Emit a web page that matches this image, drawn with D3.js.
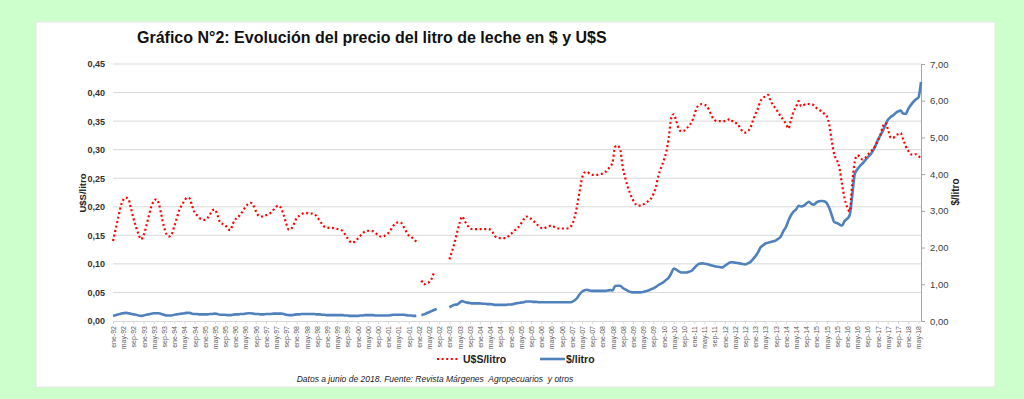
<!DOCTYPE html>
<html>
<head>
<meta charset="utf-8">
<script src="https://cdn.jsdelivr.net/npm/d3@7"></script>
<style>
    html, body { margin: 0; padding: 0; background: #ccffcc; }
    svg { display: block; font-family: "Liberation Sans", Arial, sans-serif; }
</style>
</head>
<body>
<svg id="svg" width="1024" height="399"></svg>
<script>
(function() {
    'use strict';

    var meses = ['ene', 'feb', 'mar', 'abr', 'may', 'jun', 'jul', 'ago', 'sep', 'oct', 'nov', 'dic'];
    var anioInicio = 1992;
    var anioFin = 2018;
    var mesesUltimoAnio = 6;

    // U$S por litro (eje izquierdo), mensual desde ene-92
    var usd = [
        0.140, 0.160, 0.180, 0.200, 0.212, 0.216, 0.214, 0.198, 0.180, 0.165, 0.152, 0.143, // 92
        0.150, 0.165, 0.183, 0.200, 0.210, 0.213, 0.205, 0.185, 0.165, 0.152, 0.148, 0.152, // 93
        0.165, 0.180, 0.194, 0.203, 0.210, 0.216, 0.215, 0.202, 0.190, 0.185, 0.180, 0.178, // 94
        0.177, 0.180, 0.186, 0.194, 0.195, 0.185, 0.173, 0.170, 0.168, 0.162, 0.159, 0.170, // 95
        0.178, 0.181, 0.187, 0.193, 0.200, 0.205, 0.207, 0.203, 0.193, 0.185, 0.183, 0.183, // 96
        0.185, 0.187, 0.190, 0.195, 0.200, 0.202, 0.197, 0.185, 0.170, 0.160, 0.162, 0.170, // 97
        0.180, 0.184, 0.187, 0.189, 0.189, 0.188, 0.188, 0.187, 0.183, 0.176, 0.170, 0.165, // 98
        0.164, 0.163, 0.163, 0.162, 0.161, 0.160, 0.158, 0.152, 0.145, 0.139, 0.137, 0.140, // 99
        0.144, 0.149, 0.154, 0.157, 0.158, 0.158, 0.157, 0.154, 0.150, 0.148, 0.148, 0.151, // 00
        0.154, 0.160, 0.167, 0.171, 0.173, 0.172, 0.165, 0.157, 0.150, 0.147, 0.143, 0.139, // 01
        null, 0.071, 0.064, 0.066, 0.068, 0.074, 0.086, null, null, null, null, null,       // 02
        0.108, 0.122, 0.137, 0.155, 0.172, 0.183, 0.175, 0.168, 0.162, 0.161, 0.161, 0.161, // 03
        0.161, 0.161, 0.161, 0.161, 0.160, 0.155, 0.148, 0.146, 0.145, 0.145, 0.145, 0.148, // 04
        0.152, 0.156, 0.160, 0.164, 0.170, 0.177, 0.183, 0.182, 0.179, 0.175, 0.171, 0.166, // 05
        0.163, 0.162, 0.164, 0.166, 0.167, 0.165, 0.163, 0.162, 0.162, 0.162, 0.162, 0.163, // 06
        0.168, 0.180, 0.200, 0.225, 0.250, 0.260, 0.261, 0.258, 0.256, 0.256, 0.256, 0.257, // 07
        0.258, 0.260, 0.265, 0.270, 0.278, 0.305, 0.307, 0.300, 0.268, 0.250, 0.234, 0.222, // 08
        0.212, 0.205, 0.202, 0.202, 0.204, 0.207, 0.210, 0.214, 0.222, 0.235, 0.255, 0.268, // 09
        0.280, 0.295, 0.320, 0.355, 0.362, 0.350, 0.336, 0.332, 0.333, 0.337, 0.342, 0.348, // 10
        0.360, 0.373, 0.378, 0.380, 0.379, 0.376, 0.368, 0.358, 0.352, 0.350, 0.350, 0.350, // 11
        0.350, 0.351, 0.354, 0.350, 0.347, 0.346, 0.338, 0.332, 0.330, 0.332, 0.338, 0.350, // 12
        0.362, 0.372, 0.385, 0.391, 0.393, 0.396, 0.385, 0.378, 0.372, 0.365, 0.358, 0.352, // 13
        0.345, 0.337, 0.352, 0.367, 0.375, 0.385, 0.376, 0.378, 0.380, 0.380, 0.379, 0.378, // 14
        0.373, 0.370, 0.367, 0.363, 0.359, 0.344, 0.315, 0.291, 0.282, 0.268, 0.240, 0.215, // 15
        0.200, 0.192, 0.240, 0.279, 0.290, 0.288, 0.283, 0.285, 0.291, 0.295, 0.300, 0.306, // 16
        0.315, 0.325, 0.340, 0.347, 0.336, 0.322, 0.320, 0.325, 0.327, 0.329, 0.318, 0.306, // 17
        0.298, 0.292, 0.291, 0.292, 0.289, 0.284                                            // 18
    ];

    // $ por litro (eje derecho), mensual desde ene-92
    var pesos = [
        0.14, 0.16, 0.18, 0.20, 0.21, 0.22, 0.21, 0.20, 0.18, 0.17, 0.15, 0.14, // 92
        0.15, 0.17, 0.18, 0.20, 0.21, 0.21, 0.21, 0.19, 0.17, 0.15, 0.15, 0.15, // 93
        0.17, 0.18, 0.19, 0.20, 0.21, 0.22, 0.22, 0.20, 0.19, 0.19, 0.18, 0.18, // 94
        0.18, 0.18, 0.19, 0.19, 0.20, 0.19, 0.17, 0.17, 0.17, 0.16, 0.16, 0.17, // 95
        0.18, 0.18, 0.19, 0.19, 0.20, 0.21, 0.21, 0.20, 0.19, 0.19, 0.18, 0.18, // 96
        0.19, 0.19, 0.19, 0.20, 0.20, 0.20, 0.20, 0.19, 0.17, 0.16, 0.16, 0.17, // 97
        0.18, 0.18, 0.19, 0.19, 0.19, 0.19, 0.19, 0.19, 0.18, 0.18, 0.17, 0.17, // 98
        0.16, 0.16, 0.16, 0.16, 0.16, 0.16, 0.16, 0.15, 0.15, 0.14, 0.14, 0.14, // 99
        0.14, 0.15, 0.15, 0.16, 0.16, 0.16, 0.16, 0.15, 0.15, 0.15, 0.15, 0.15, // 00
        0.15, 0.16, 0.17, 0.17, 0.17, 0.17, 0.17, 0.16, 0.15, 0.15, 0.14, 0.14, // 01
        null, 0.16, 0.18, 0.21, 0.24, 0.27, 0.30, 0.33, null, null, null, null, // 02
        0.37, 0.41, 0.44, 0.45, 0.50, 0.54, 0.52, 0.50, 0.49, 0.48, 0.48, 0.48, // 03
        0.48, 0.47, 0.47, 0.46, 0.46, 0.45, 0.44, 0.44, 0.44, 0.44, 0.44, 0.45, // 04
        0.45, 0.46, 0.48, 0.49, 0.50, 0.51, 0.53, 0.53, 0.53, 0.52, 0.52, 0.51, // 05
        0.51, 0.51, 0.51, 0.51, 0.51, 0.51, 0.51, 0.51, 0.51, 0.51, 0.51, 0.51, // 06
        0.52, 0.56, 0.62, 0.72, 0.80, 0.84, 0.85, 0.83, 0.82, 0.82, 0.82, 0.82, // 07
        0.82, 0.82, 0.83, 0.84, 0.83, 0.95, 0.96, 0.96, 0.90, 0.86, 0.82, 0.79, // 08
        0.78, 0.78, 0.78, 0.78, 0.79, 0.81, 0.83, 0.86, 0.89, 0.93, 0.98, 1.02, // 09
        1.06, 1.12, 1.18, 1.30, 1.43, 1.40, 1.35, 1.32, 1.32, 1.32, 1.34, 1.37, // 10
        1.44, 1.51, 1.56, 1.57, 1.56, 1.55, 1.53, 1.51, 1.49, 1.48, 1.47, 1.46, // 11
        1.50, 1.55, 1.59, 1.60, 1.59, 1.58, 1.57, 1.55, 1.54, 1.57, 1.60, 1.68, // 12
        1.76, 1.86, 2.00, 2.06, 2.11, 2.13, 2.15, 2.17, 2.19, 2.24, 2.30, 2.45, // 13
        2.56, 2.74, 2.88, 2.98, 3.04, 3.14, 3.12, 3.14, 3.20, 3.25, 3.19, 3.17, // 14
        3.23, 3.26, 3.27, 3.26, 3.21, 3.08, 2.88, 2.69, 2.67, 2.63, 2.60, 2.72, // 15
        2.78, 2.88, 3.40, 4.00, 4.13, 4.22, 4.29, 4.37, 4.45, 4.52, 4.62, 4.75, // 16
        4.92, 5.05, 5.18, 5.33, 5.48, 5.55, 5.60, 5.66, 5.71, 5.73, 5.65, 5.64, // 17
        5.78, 5.88, 5.97, 6.04, 6.09, 6.51                                      // 18
    ];

    var ticksUsd = [0, 0.05, 0.10, 0.15, 0.20, 0.25, 0.30, 0.35, 0.40, 0.45];
    var ticksPesos = [0, 1, 2, 3, 4, 5, 6, 7];

    var categorias = [];
    for (var a = anioInicio; a <= anioFin; a++) {
        var n = (a === anioFin) ? mesesUltimoAnio : 12;
        for (var m = 0; m < n; m++) {
            categorias.push(meses[m] + '-' + String(a).slice(2));
        }
    }

    var coma = function(d) { return d.toFixed(2).replace('.', ','); };

    var svg = d3.select('#svg');

    // panel blanco
    svg.append('rect')
        .attr('x', 36).attr('y', 22)
        .attr('width', 959).attr('height', 365)
        .attr('fill', '#fff')
        .attr('stroke', '#e6e6e6');

    svg.append('text')
        .attr('x', 137).attr('y', 43)
        .attr('font-size', 16).attr('font-weight', 'bold')
        .attr('fill', '#111')
        .text('Gráfico N°2: Evolución del precio del litro de leche en $ y U$S');

    var x = d3.scalePoint().domain(categorias).range([113, 921]);
    var yL = d3.scaleLinear().domain([0, 0.45]).range([321, 64]);
    var yR = d3.scaleLinear().domain([0, 7]).range([321, 64]);

    //gridlines
    svg.append('g').selectAll('line')
        .data(ticksUsd.slice(1))
        .enter().append('line')
        .attr('x1', 113).attr('x2', 921)
        .attr('y1', function(d) { return yL(d); })
        .attr('y2', function(d) { return yL(d); })
        .attr('stroke', '#d9d9d9').attr('stroke-width', 1);

    //left axis
    var gl = svg.append('g')
        .attr('transform', 'translate(113,0)')
        .call(d3.axisLeft(yL).tickValues(ticksUsd).tickSize(0).tickPadding(8).tickFormat(coma));
    gl.select('.domain').remove();
    gl.selectAll('text')
        .attr('font-family', '"Liberation Sans", Arial, sans-serif')
        .attr('font-size', 9).attr('font-weight', 'bold').attr('fill', '#333');

    //right axis
    var gr = svg.append('g')
        .attr('transform', 'translate(921,0)')
        .call(d3.axisRight(yR).tickValues(ticksPesos).tickSize(4).tickSizeOuter(0).tickPadding(5).tickFormat(coma));
    gr.select('.domain').attr('stroke', '#a6a6a6');
    gr.selectAll('line').attr('stroke', '#a6a6a6');
    gr.selectAll('text')
        .attr('font-family', '"Liberation Sans", Arial, sans-serif')
        .attr('font-size', 9.5).attr('fill', '#404040');

    //bottom axis
    var gb = svg.append('g')
        .attr('transform', 'translate(0,321)')
        .call(d3.axisBottom(x)
            .tickValues(categorias.filter(function(d, i) { return i % 4 === 0; }))
            .tickSize(3).tickSizeOuter(0).tickPadding(3));
    gb.select('.domain').attr('stroke', '#d9d9d9');
    gb.selectAll('line').attr('stroke', '#d9d9d9');
    gb.selectAll('text')
        .attr('font-family', '"Liberation Sans", Arial, sans-serif')
        .attr('font-size', 7).attr('fill', '#595959')
        .attr('text-anchor', 'end')
        .attr('transform', 'rotate(-90)')
        .attr('x', -5).attr('y', 0).attr('dy', '0.35em');

    //axis titles
    svg.append('text')
        .attr('transform', 'translate(86,193) rotate(-90)')
        .attr('text-anchor', 'middle')
        .attr('font-size', 9.5).attr('font-weight', 'bold').attr('fill', '#222')
        .text('U$S/litro');
    svg.append('text')
        .attr('transform', 'translate(959,192) rotate(-90)')
        .attr('text-anchor', 'middle')
        .attr('font-size', 10).attr('font-weight', 'bold').attr('fill', '#222')
        .text('$/litro');

    //lines
    var lineUsd = d3.line()
        .defined(function(d) { return d !== null; })
        .x(function(d, i) { return x(categorias[i]); })
        .y(function(d) { return yL(d); })
        .curve(d3.curveMonotoneX);
    var linePesos = d3.line()
        .defined(function(d) { return d !== null; })
        .x(function(d, i) { return x(categorias[i]); })
        .y(function(d) { return yR(d); })
        .curve(d3.curveMonotoneX);

    svg.append('path')
        .datum(pesos)
        .attr('d', linePesos)
        .attr('fill', 'none')
        .attr('stroke', '#4f81bd')
        .attr('stroke-width', 2.6);

    svg.append('path')
        .datum(usd)
        .attr('d', lineUsd)
        .attr('fill', 'none')
        .attr('stroke', '#ff0000')
        .attr('stroke-width', 2.2)
        .attr('stroke-dasharray', '2,2.6');

    //legend
    var lg = svg.append('g').attr('font-size', 10.5).attr('font-weight', 'bold').attr('fill', '#222');
    lg.append('line')
        .attr('x1', 437).attr('x2', 459).attr('y1', 359).attr('y2', 359)
        .attr('stroke', '#ff0000').attr('stroke-width', 2.2).attr('stroke-dasharray', '2,2.6');
    lg.append('text').attr('x', 463).attr('y', 363).text('U$S/litro');
    lg.append('line')
        .attr('x1', 540).attr('x2', 565).attr('y1', 359).attr('y2', 359)
        .attr('stroke', '#4f81bd').attr('stroke-width', 2.6);
    lg.append('text').attr('x', 566).attr('y', 363).text('$/litro');

    svg.append('text')
        .attr('x', 435).attr('y', 382)
        .attr('text-anchor', 'middle')
        .attr('font-size', 8.5).attr('font-style', 'italic').attr('fill', '#222')
        .text('Datos a junio de 2018. Fuente: Revista Márgenes  Agropecuarios  y otros')
        .style('white-space', 'pre');
})();
</script>
</body>
</html>
